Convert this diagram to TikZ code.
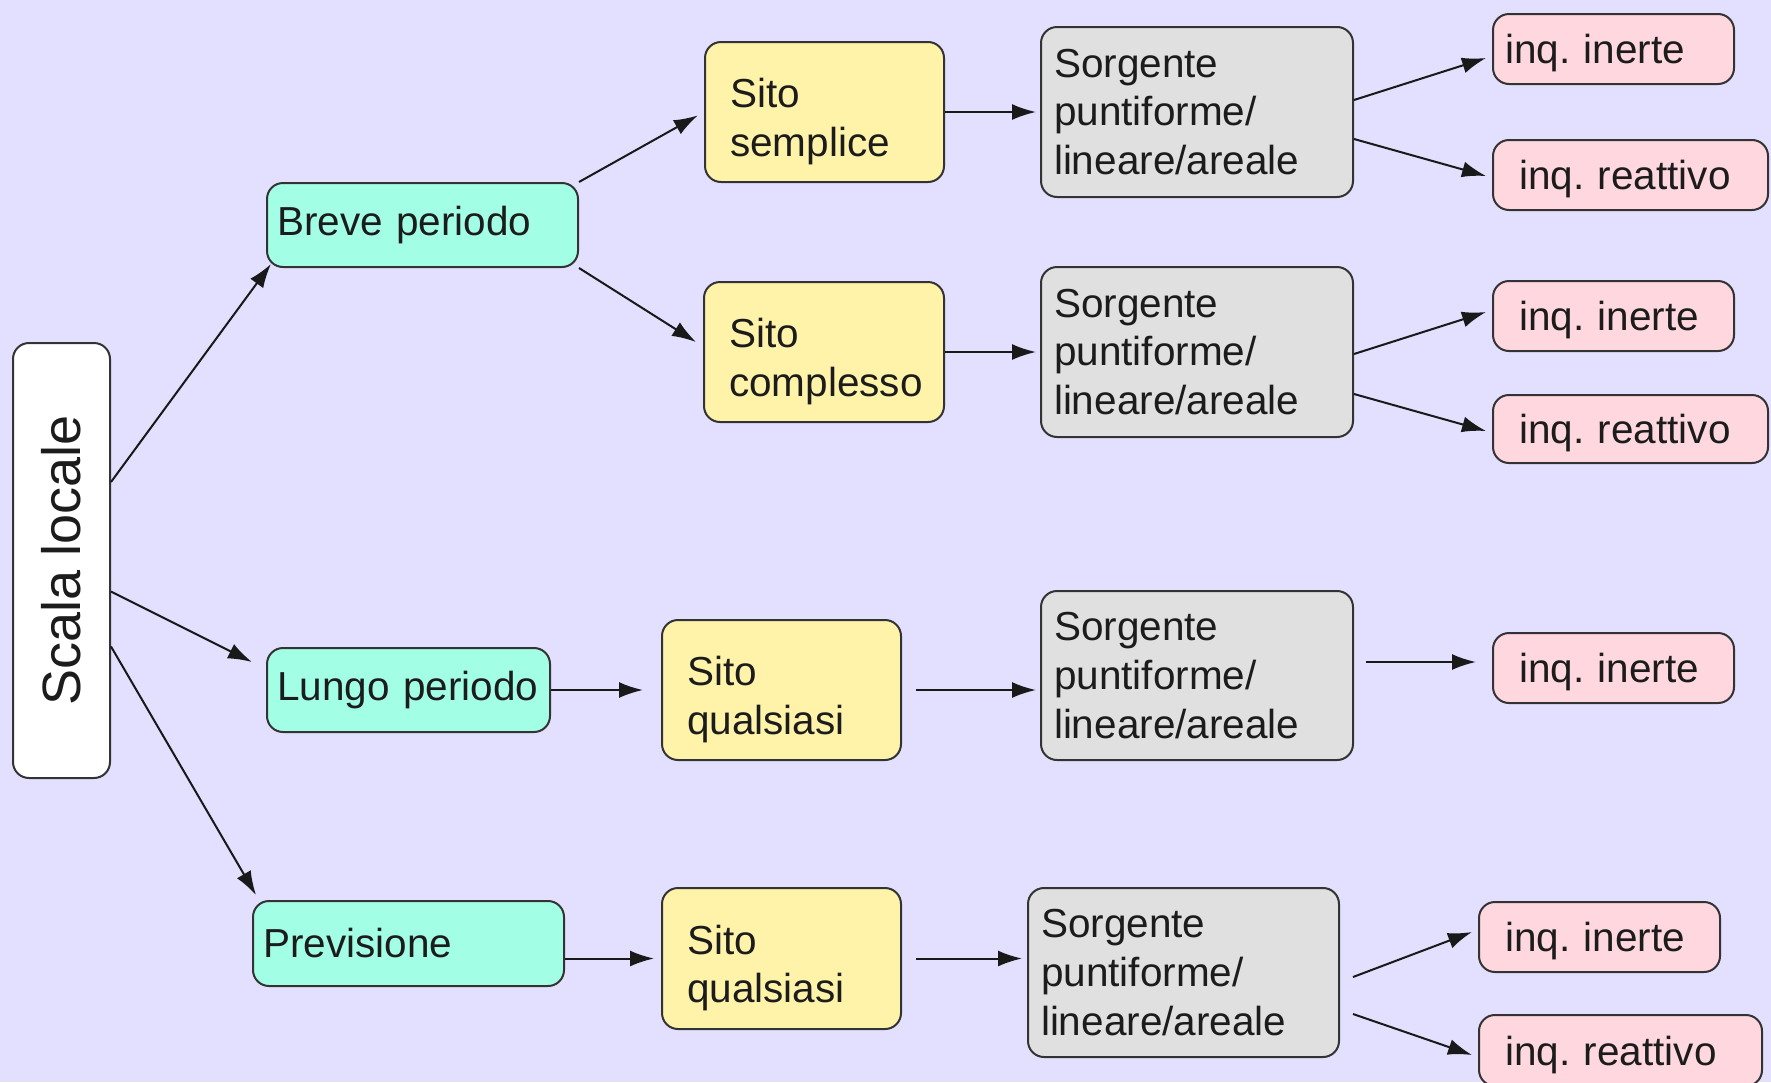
\documentclass[tikz,border=0pt]{standalone}
\usepackage{fontspec}
\setmainfont{Liberation Sans}
\usepackage{graphicx}
\usetikzlibrary{calc,arrows.meta}
\frenchspacing

\definecolor{bgcol}{HTML}{E2E0FE}
\definecolor{cyanbox}{HTML}{A2FFE6}
\definecolor{yellowbox}{HTML}{FFF3A9}
\definecolor{graybox}{HTML}{E0E0E0}
\definecolor{pinkbox}{HTML}{FFD7DF}
\definecolor{edgecol}{HTML}{333333}
\definecolor{txtcol}{HTML}{1C1C1C}

% \placebox{name}{style}{x1}{y1}{x2}{y2}{left padding}{text}
% corners and padding are given in picture units (1 unit = 0.5pt)
\newcommand\placebox[8]{%
  \pgfmathsetmacro\pbW{(#5-#3)*0.5}%
  \pgfmathsetmacro\pbH{(#6-#4)*0.5}%
  \pgfmathsetmacro\pbP{#7*0.5}%
  \pgfmathsetmacro\pbT{(#5-#3-2*#7)*0.5}%
  \pgfmathsetmacro\pbX{(#3+#5)/2}%
  \pgfmathsetmacro\pbY{(#4+#6)/2}%
  \node[#2, minimum width=\pbW pt, minimum height=\pbH pt,
        text width=\pbT pt, inner xsep=\pbP pt] (#1) at (\pbX,\pbY) {#8};}

\tikzset{
  box/.style={draw=edgecol, line width=1pt, rounded corners=8pt,
    inner ysep=0pt, align=left, text=txtcol,
    font=\fontsize{20.25}{24.3}\selectfont},
  % a taller first line pushes the text block a little downwards
  lowertext/.style={execute at begin node={\rule{0pt}{#1}}},
  rootbox/.style={box, fill=white, align=center},
  periodbox/.style={box, fill=cyanbox},
  sitebox/.style={box, fill=yellowbox, lowertext=24pt},
  sourcebox/.style={box, fill=graybox},
  pollbox/.style={box, fill=pinkbox, lowertext=19pt},
  arr/.style={line width=1pt, draw=black!90,
    -{Latex[length=12pt,width=8pt]}}
}

\begin{document}
\begin{tikzpicture}[x=0.5pt,y=-0.5pt]
\path[use as bounding box, fill=bgcol] (0,0) rectangle (1771,1082);
\clip (0,0) rectangle (1771,1082);

% root
\placebox{scala}{rootbox}{13}{343}{110}{778}{0}{\rotatebox{90}{\fontsize{27}{32}\selectfont Scala locale}}

% time horizon
\placebox{breve}{periodbox}{267}{183}{578}{267}{10}{Breve periodo}
\placebox{lungo}{periodbox}{267}{648}{550}{732}{10}{Lungo periodo}
\placebox{prev}{periodbox}{253}{901}{564}{986}{10}{Previsione}

% site type
\placebox{sempl}{sitebox}{705}{42}{944}{182}{25}{Sito\\semplice}
\placebox{compl}{sitebox}{704}{282}{944}{422}{25}{Sito\\complesso}
\placebox{sq1}{sitebox}{662}{620}{901}{760}{25}{Sito\\qualsiasi}
\placebox{sq2}{sitebox}{662}{888}{901}{1029}{25}{Sito\\qualsiasi}

% source geometry
\placebox{sorg1}{sourcebox}{1041}{27}{1353}{197}{13}{Sorgente\\puntiforme/\\lineare/areale}
\placebox{sorg2}{sourcebox}{1041}{267}{1353}{437}{13}{Sorgente\\puntiforme/\\lineare/areale}
\placebox{sorg3}{sourcebox}{1041}{591}{1353}{760}{13}{Sorgente\\puntiforme/\\lineare/areale}
\placebox{sorg4}{sourcebox}{1028}{888}{1339}{1057}{13}{Sorgente\\puntiforme/\\lineare/areale}

% pollutant type
\placebox{in1}{pollbox}{1493}{14}{1734}{84}{12}{inq. inerte}
\placebox{re1}{pollbox}{1493}{140}{1768}{210}{26}{inq. reattivo}
\placebox{in2}{pollbox}{1493}{281}{1734}{351}{26}{inq. inerte}
\placebox{re2}{pollbox}{1493}{395}{1768}{463}{26}{inq. reattivo}
\placebox{in3}{pollbox}{1493}{633}{1734}{703}{26}{inq. inerte}
\placebox{in4}{pollbox}{1479}{902}{1720}{972}{26}{inq. inerte}
\placebox{re4}{pollbox}{1479}{1015}{1762}{1086}{26}{inq. reattivo}

% root -> time horizon
\draw[arr] ($(scala.east)+(0,-78.5)$) -- ($(breve.south west)+(5,-4)$);
\draw[arr] ($(scala.east)+(0,31)$) -- ($(lungo.west)+(-14,-28)$);
\draw[arr] ($(scala.east)+(0,86)$) -- ($(prev.north west)+(4,-5)$);

% time horizon -> site
\draw[arr, shorten >=3.5pt] (breve.north east) -- (sempl.west);
\draw[arr] (breve.south east) -- ($(compl.west)+(-7,-10)$);
\draw[arr, shorten >=9pt] (lungo.east) -- (sq1.west);
\draw[arr, shorten >=3.5pt] (prev.east |- sq2.west) -- (sq2.west);

% site -> source
\draw[arr, shorten >=2pt] (sempl.east) -- (sorg1.west);
\draw[arr, shorten >=2pt] (compl.east) -- (sorg2.west);
\draw[arr, shorten <=7pt, shorten >=2pt] (sq1.east) -- (sq1.east -| sorg3.west);
\draw[arr, shorten <=7pt, shorten >=2.5pt] (sq2.east) -- (sq2.east -| sorg4.west);

% source -> pollutant
\draw[arr] ($(sorg1.east)+(0,-12)$) -- ($(in1.west)+(-6,9)$);
\draw[arr] ($(sorg1.east)+(0,27)$) -- ($(re1.west)+(-6,1)$);
\draw[arr] ($(sorg2.east)+(0,2)$) -- ($(in2.west)+(-6,-4)$);
\draw[arr] ($(sorg2.east)+(0,42)$) -- ($(re2.west)+(-6,2)$);
\draw[arr, shorten <=6pt, shorten >=8pt] ($(sorg3.east)+(0,-13.5)$) -- ($(in3.west)+(0,-6)$);
\draw[arr] ($(sorg4.east)+(13,4.5)$) -- ($(in4.west)+(-6,-5)$);
\draw[arr] ($(sorg4.east)+(13,41.5)$) -- ($(re4.west)+(-6,4.5)$);
\end{tikzpicture}
\end{document}
